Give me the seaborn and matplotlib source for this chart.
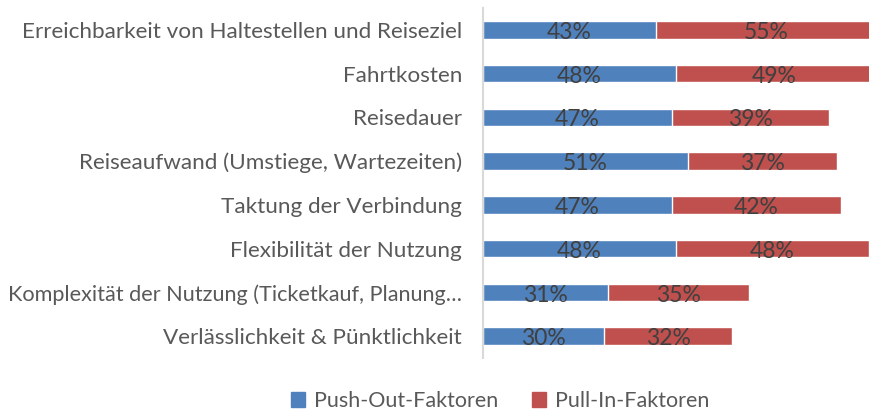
import numpy as np
import pandas as pd
import matplotlib
matplotlib.use('Agg')
import matplotlib.pyplot as plt
import seaborn as sns
from matplotlib.patches import Patch

categories = [
    "Erreichbarkeit von Haltestellen und Reiseziel",
    "Fahrtkosten",
    "Reisedauer",
    "Reiseaufwand (Umstiege, Wartezeiten)",
    "Taktung der Verbindung",
    "Flexibilität der Nutzung",
    "Komplexität der Nutzung (Ticketkauf, Planung…",
    "Verlässlichkeit & Pünktlichkeit",
]
push_out = [43, 48, 47, 51, 47, 48, 31, 30]
pull_in = [55, 49, 39, 37, 42, 48, 35, 32]
series_names = ["Push-Out-Faktoren", "Pull-In-Faktoren"]

BLUE = "#4F81BD"
RED = "#C0504D"

sns.set_theme(style="white")
plt.rcParams['font.family'] = ['Lato', 'DejaVu Sans']

df = pd.DataFrame({"cat": categories, "push": push_out, "pull": pull_in})
df["total"] = df["push"] + df["pull"]

fig = plt.figure(figsize=(8.7, 4.18), dpi=100)
ax = fig.add_axes([483 / 870, 1 - 358 / 418, 1 - 483 / 870, 350 / 418])

# stacked bars: total first (red), push-out on top (blue)
sns.barplot(data=df, x="total", y="cat", color=RED, saturation=1, width=0.40, ax=ax)
sns.barplot(data=df, x="push", y="cat", color=BLUE, saturation=1, width=0.40, ax=ax)

ax.set_xlim(0, 96.2)
ax.set_ylim(7.5, -0.5)
ax.set_xlabel("")
ax.set_ylabel("")
ax.set_xticks([])
ax.tick_params(axis="y", length=0, pad=15, labelsize=16.2, labelcolor="#595959")
# the truncated label is a bit smaller so it fits the figure
for lab in ax.get_yticklabels():
    if lab.get_text().endswith("…"):
        lab.set_fontsize(15.6)
for s in ["top", "right", "bottom"]:
    ax.spines[s].set_visible(False)
ax.spines["left"].set_color("#D9D9D9")
ax.spines["left"].set_linewidth(1.5)

for i, (p, q) in enumerate(zip(push_out, pull_in)):
    ax.text(p / 2, i + 0.06, f"{p}%", ha="center", va="center", fontsize=16.5, color="#404040")
    ax.text(p + q / 2, i + 0.06, f"{q}%", ha="center", va="center", fontsize=16.5, color="#404040",
            clip_on=False)

handles = [Patch(color=BLUE), Patch(color=RED)]
fig.legend(handles, series_names, loc="lower center", ncol=2, frameon=False,
           bbox_to_anchor=(0.575, -0.03), fontsize=15.5, handlelength=0.65, handleheight=0.65,
           columnspacing=1.6, handletextpad=0.4, labelcolor="#595959")

fig.savefig("out.png", dpi=100)
